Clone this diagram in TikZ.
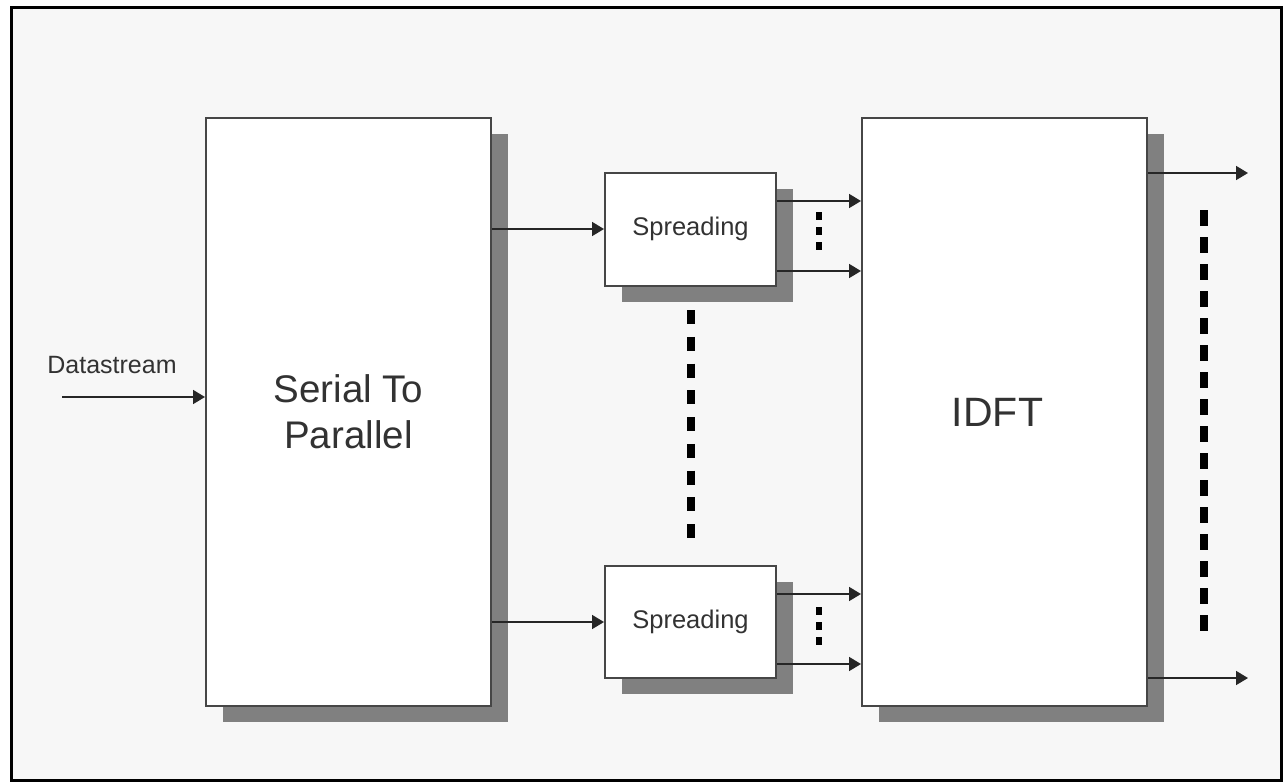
\documentclass[tikz,border=0pt]{standalone}
\usepackage{fontspec}
\setmainfont{Liberation Sans}
\usetikzlibrary{arrows.meta, shadows}

\definecolor{bggray}{RGB}{247,247,247}
\definecolor{shadowgray}{RGB}{128,128,128}
\definecolor{boxline}{RGB}{70,70,70}
\definecolor{txtgray}{RGB}{50,50,50}

\begin{document}
\begin{tikzpicture}[x=1pt, y=-1pt, >={Triangle[length=12pt,width=14pt]},
    block/.style={draw=boxline, line width=2pt, fill=white, inner sep=0pt, align=center, text=txtgray,
        drop shadow={shadow xshift=17pt, shadow yshift=-16pt, fill=shadowgray, opacity=1}},
    sig/.style={->, line width=1.7pt, draw=black!85},
    dots/.style={line width=8pt, draw=black}]
    \useasboundingbox (0,0) rectangle (1284,782);
    \draw[line width=3pt, fill=bggray] (11,7) rectangle (1281,780);

    % blocks
    \node[block, minimum width=285pt, minimum height=588pt, font=\fontsize{38.5}{46}\selectfont] (s2p) at (348.5,412) {Serial To\\Parallel};
    \node[block, minimum width=171pt, minimum height=113pt, font=\fontsize{25.5}{30}\selectfont] (spr1) at (690.5,229) {Spreading};
    \node[block, minimum width=171pt, minimum height=112pt, font=\fontsize{25.5}{30}\selectfont] (spr2) at (690.5,622) {Spreading};
    \node[block, minimum width=285pt, minimum height=588pt, font=\fontsize{41}{46}\selectfont] (idft) at (1004.5,412) {IDFT\hspace*{14pt}};

    % input
    \coordinate (ds) at (62,397);
    \node[text=txtgray, font=\fontsize{25}{28}\selectfont] (dslabel) at (112,365) {Datastream};
    \draw[sig] (ds) -- (ds -| s2p.west);

    % serial to parallel -> spreading
    \draw[sig] (spr1.west -| s2p.east) -- (spr1.west);
    \draw[sig] (spr2.west -| s2p.east) -- (spr2.west);

    % spreading -> IDFT
    \coordinate (o1) at ([yshift=28pt]spr1.east);
    \coordinate (o2) at ([yshift=-42pt]spr1.east);
    \coordinate (o3) at ([yshift=28pt]spr2.east);
    \coordinate (o4) at ([yshift=-42pt]spr2.east);
    \foreach \o in {o1,o2,o3,o4}
        \draw[sig] (\o) -- (\o -| idft.west);

    % IDFT outputs
    \coordinate (y1) at (1248,173);
    \coordinate (y2) at (1248,678);
    \draw[sig] (y1 -| idft.east) -- (y1);
    \draw[sig] (y2 -| idft.east) -- (y2);

    % dots
    \draw[dots, dash pattern=on 14pt off 12.75pt] (690.5,310) -- (690.5,540);
    \draw[dots, dash pattern=on 16pt off 11pt] (1204,210) -- (1204,631);
    \draw[dots, line width=6pt, dash pattern=on 8pt off 7pt] (819,212) -- (819,250);
    \draw[dots, line width=6pt, dash pattern=on 8pt off 7pt] (819,607) -- (819,645);
\end{tikzpicture}
\end{document}
